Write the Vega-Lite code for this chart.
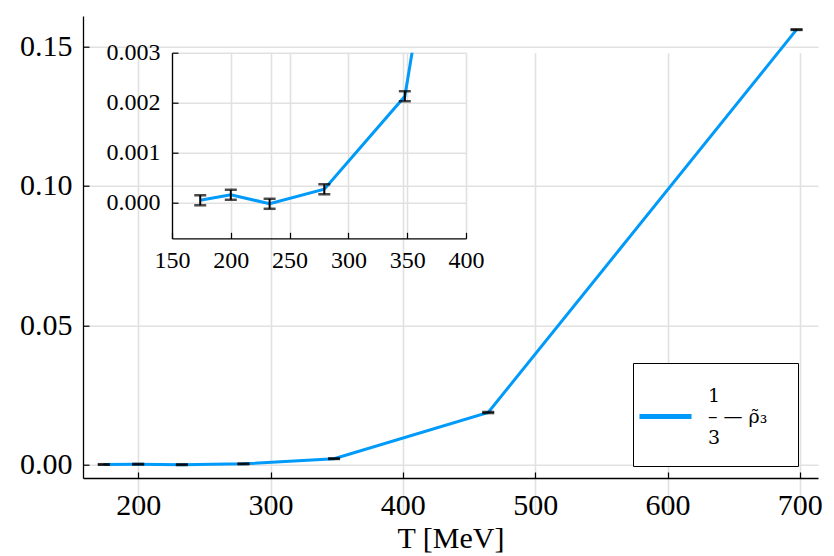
{
  "$schema": "https://vega.github.io/schema/vega-lite/v6.json",
  "autosize": {"type": "none"},
  "padding": {"left": 83, "top": 52.7, "right": 16, "bottom": 78},
  "width": 735,
  "height": 425.3,
  "background": "white",
  "config": {
    "view": {"stroke": null},
    "font": "Liberation Serif",
    "axis": {
      "domainColor": "black",
      "domainWidth": 1.3,
      "tickColor": "black",
      "tickWidth": 1.2,
      "gridColor": "#e1e1e1",
      "gridWidth": 1.6,
      "labelFlush": false,
      "labelFont": "Liberation Serif",
      "labelColor": "black",
      "titleFont": "Liberation Serif",
      "titleColor": "black",
      "titleFontWeight": "normal"
    }
  },
  "data": {
    "values": [
      {"T": 174, "v": 0.00005, "err": 0.0001, "series": "rho"},
      {"T": 200, "v": 0.00016, "err": 0.0001, "series": "rho"},
      {"T": 233, "v": -0.00002, "err": 0.0001, "series": "rho"},
      {"T": 279.5, "v": 0.00027, "err": 0.0001, "series": "rho"},
      {"T": 348, "v": 0.00213, "err": 0.0001, "series": "rho"},
      {"T": 464.5, "v": 0.0187, "err": 0.0002, "series": "rho"},
      {"T": 697.5, "v": 0.1561, "err": 0.0001, "series": "rho"}
    ]
  },
  "layer": [
    {
      "layer": [
        {
          "mark": {"type": "line", "strokeWidth": 3},
          "encoding": {
            "x": {
              "field": "T", "type": "quantitative",
              "scale": {"domain": [158.3, 713.7], "nice": false, "zero": false},
              "axis": {
                "orient": "bottom",
                "values": [200, 300, 400, 500, 600, 700],
                "grid": true,
                "tickSize": -6,
                "labelPadding": 18,
                "labelFontSize": 30,
                "title": "T [MeV]",
                "titleFontSize": 30,
                "titlePadding": 3
              }
            },
            "y": {
              "field": "v", "type": "quantitative",
              "scale": {"domain": [-0.0048, 0.161], "range": [425.3, -36.7], "nice": false, "zero": false},
              "axis": {
                "orient": "left",
                "values": [0, 0.05, 0.1, 0.15],
                "format": ".2f",
                "grid": true,
                "tickSize": -6,
                "labelPadding": 17,
                "labelFontSize": 30,
                "title": null
              }
            },
            "color": {
              "field": "series", "type": "nominal",
              "scale": {"range": ["#009AFA"]},
              "legend": {
                "title": null,
                "orient": "none",
                "legendX": 550,
                "legendY": 310.3,
                "fillColor": "white",
                "strokeColor": "black",
                "padding": 18,
                "symbolType": "M-2.17,1.75L2.17,1.75",
                "symbolSize": 576,
                "symbolStrokeWidth": 5,
                "labelFont": "DejaVu Serif",
                "labelFontSize": 19,
                "labelColor": "black",
                "labelOffset": 28,
                "labelExpr": "['1', '–  —  ρ̃₃', '3']"
              }
            }
          }
        },
        {
          "mark": {
            "type": "errorbar",
            "color": "black",
            "ticks": {"size": 12, "thickness": 2.5, "color": "black"},
            "rule": {"strokeWidth": 2, "color": "black"}
          },
          "encoding": {
            "x": {"field": "T", "type": "quantitative"},
            "y": {"field": "v", "type": "quantitative"},
            "yError": {"field": "err"}
          }
        }
      ]
    },
    {
      "transform": [{"filter": "datum.T <= 465"}],
      "layer": [
        {
          "mark": {"type": "line", "strokeWidth": 3, "color": "#009AFA", "clip": true},
          "encoding": {
            "x": {
              "field": "T", "type": "quantitative",
              "scale": {"domain": [150, 400], "range": [89, 383], "nice": false, "zero": false},
              "axis": {
                "orient": "top",
                "offset": -185.6,
                "values": [150, 200, 250, 300, 350, 400],
                "grid": true,
                "tickSize": 6,
                "labelPadding": -16,
                "labelBaseline": "top",
                "labelFontSize": 24,
                "title": null
              }
            },
            "y": {
              "field": "v", "type": "quantitative",
              "scale": {"domain": [-0.00071, 0.003], "range": [185.6, 0], "nice": false, "zero": false},
              "axis": {
                "orient": "left",
                "offset": -89,
                "values": [0, 0.001, 0.002, 0.003],
                "format": ".3f",
                "grid": true,
                "tickSize": -6,
                "labelPadding": 18,
                "labelFontSize": 24,
                "title": null
              }
            }
          }
        },
        {
          "transform": [{"filter": "datum.T < 400"}],
          "mark": {
            "type": "errorbar",
            "color": "black",
            "ticks": {"size": 12, "thickness": 2.5, "color": "black"},
            "rule": {"strokeWidth": 2, "color": "black"}
          },
          "encoding": {
            "x": {"field": "T", "type": "quantitative"},
            "y": {"field": "v", "type": "quantitative"},
            "yError": {"field": "err"}
          }
        }
      ]
    }
  ],
  "resolve": {
    "scale": {"x": "independent", "y": "independent"},
    "axis": {"x": "independent", "y": "independent"}
  }
}
